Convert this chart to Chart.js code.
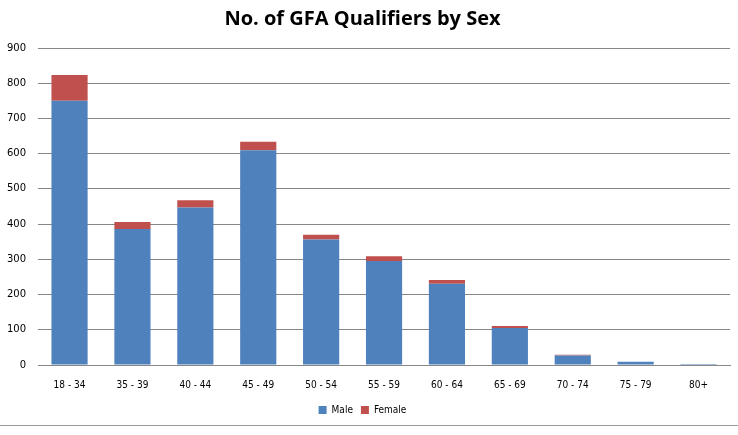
<!DOCTYPE html>
<html>
<head>
<meta charset="utf-8">
<script src="https://cdn.jsdelivr.net/npm/chart.js@4/dist/chart.umd.min.js"></script>
<style>
  html, body { margin: 0; padding: 0; background: #fff; }
  #wrap { position: relative; width: 738px; height: 435px; }
  #sheet { position: absolute; left: 0; top: 425px; width: 738px; height: 10px; border-top: 1px solid #9a9a9a; }
</style>
</head>
<body>
<div id="wrap">
  <canvas id="GFA" width="738" height="425"></canvas>
  <div id="sheet"></div>
</div>
<script>
// age bands and qualifier counts
var ageBands = ["18 - 34", "35 - 39", "40 - 44", "45 - 49", "50 - 54", "55 - 59", "60 - 64", "65 - 69", "70 - 74", "75 - 79", "80+"];
var maleCounts = [750, 386, 447, 610, 356, 295, 231, 105, 27, 9, 3];
var femaleCounts = [73, 20, 21, 24, 14, 14, 10, 6, 2, 0, 0];
var yTicks = [0, 100, 200, 300, 400, 500, 600, 700, 800, 900];

document.addEventListener("DOMContentLoaded", function () {
    var ctx = document.getElementById("GFA").getContext("2d");
    new Chart(ctx, {
        type: "bar",
        data: {
            labels: ageBands,
            datasets: [
                {
                    label: "Male",
                    data: maleCounts,
                    backgroundColor: "#4F81BD",
                    barPercentage: 0.575,
                    categoryPercentage: 1.0,
                },
                {
                    label: "Female",
                    data: femaleCounts,
                    backgroundColor: "#C0504D",
                    barPercentage: 0.575,
                    categoryPercentage: 1.0,
                },
            ],
        },
        options: {
            responsive: false,
            animation: false,
            layout: { padding: { left: -5, right: 8, top: 4, bottom: 0 } },
            scales: {
                x: {
                    stacked: true,
                    grid: { display: false },
                    border: { display: true, color: "#868686" },
                    ticks: {
                        color: "#000",
                        font: { family: "DejaVu Sans Condensed, DejaVu Sans", size: 10 },
                        padding: 6,
                        maxRotation: 0,
                    },
                },
                y: {
                    stacked: true,
                    min: 0,
                    max: 900,
                    afterBuildTicks: function (axis) {
                        axis.ticks = yTicks.map(function (v) { return { value: v }; });
                    },
                    grid: { color: "#868686", drawTicks: false },
                    border: { display: false },
                    ticks: {
                        color: "#000",
                        font: { family: "DejaVu Sans", size: 10 },
                        padding: 12,
                    },
                },
            },
            plugins: {
                title: {
                    display: true,
                    text: "No. of GFA Qualifiers by Sex",
                    color: "#000",
                    font: { family: "Open Sans", size: 20, weight: "bold" },
                    padding: { top: 3, bottom: 17 },
                },
                legend: {
                    position: "bottom",
                    labels: {
                        boxWidth: 8,
                        boxHeight: 8,
                        color: "#000",
                        font: { family: "DejaVu Sans Condensed, DejaVu Sans", size: 10 },
                        padding: 8,
                    },
                },
                tooltip: { enabled: false },
            },
        },
    });
});
</script>
</body>
</html>
